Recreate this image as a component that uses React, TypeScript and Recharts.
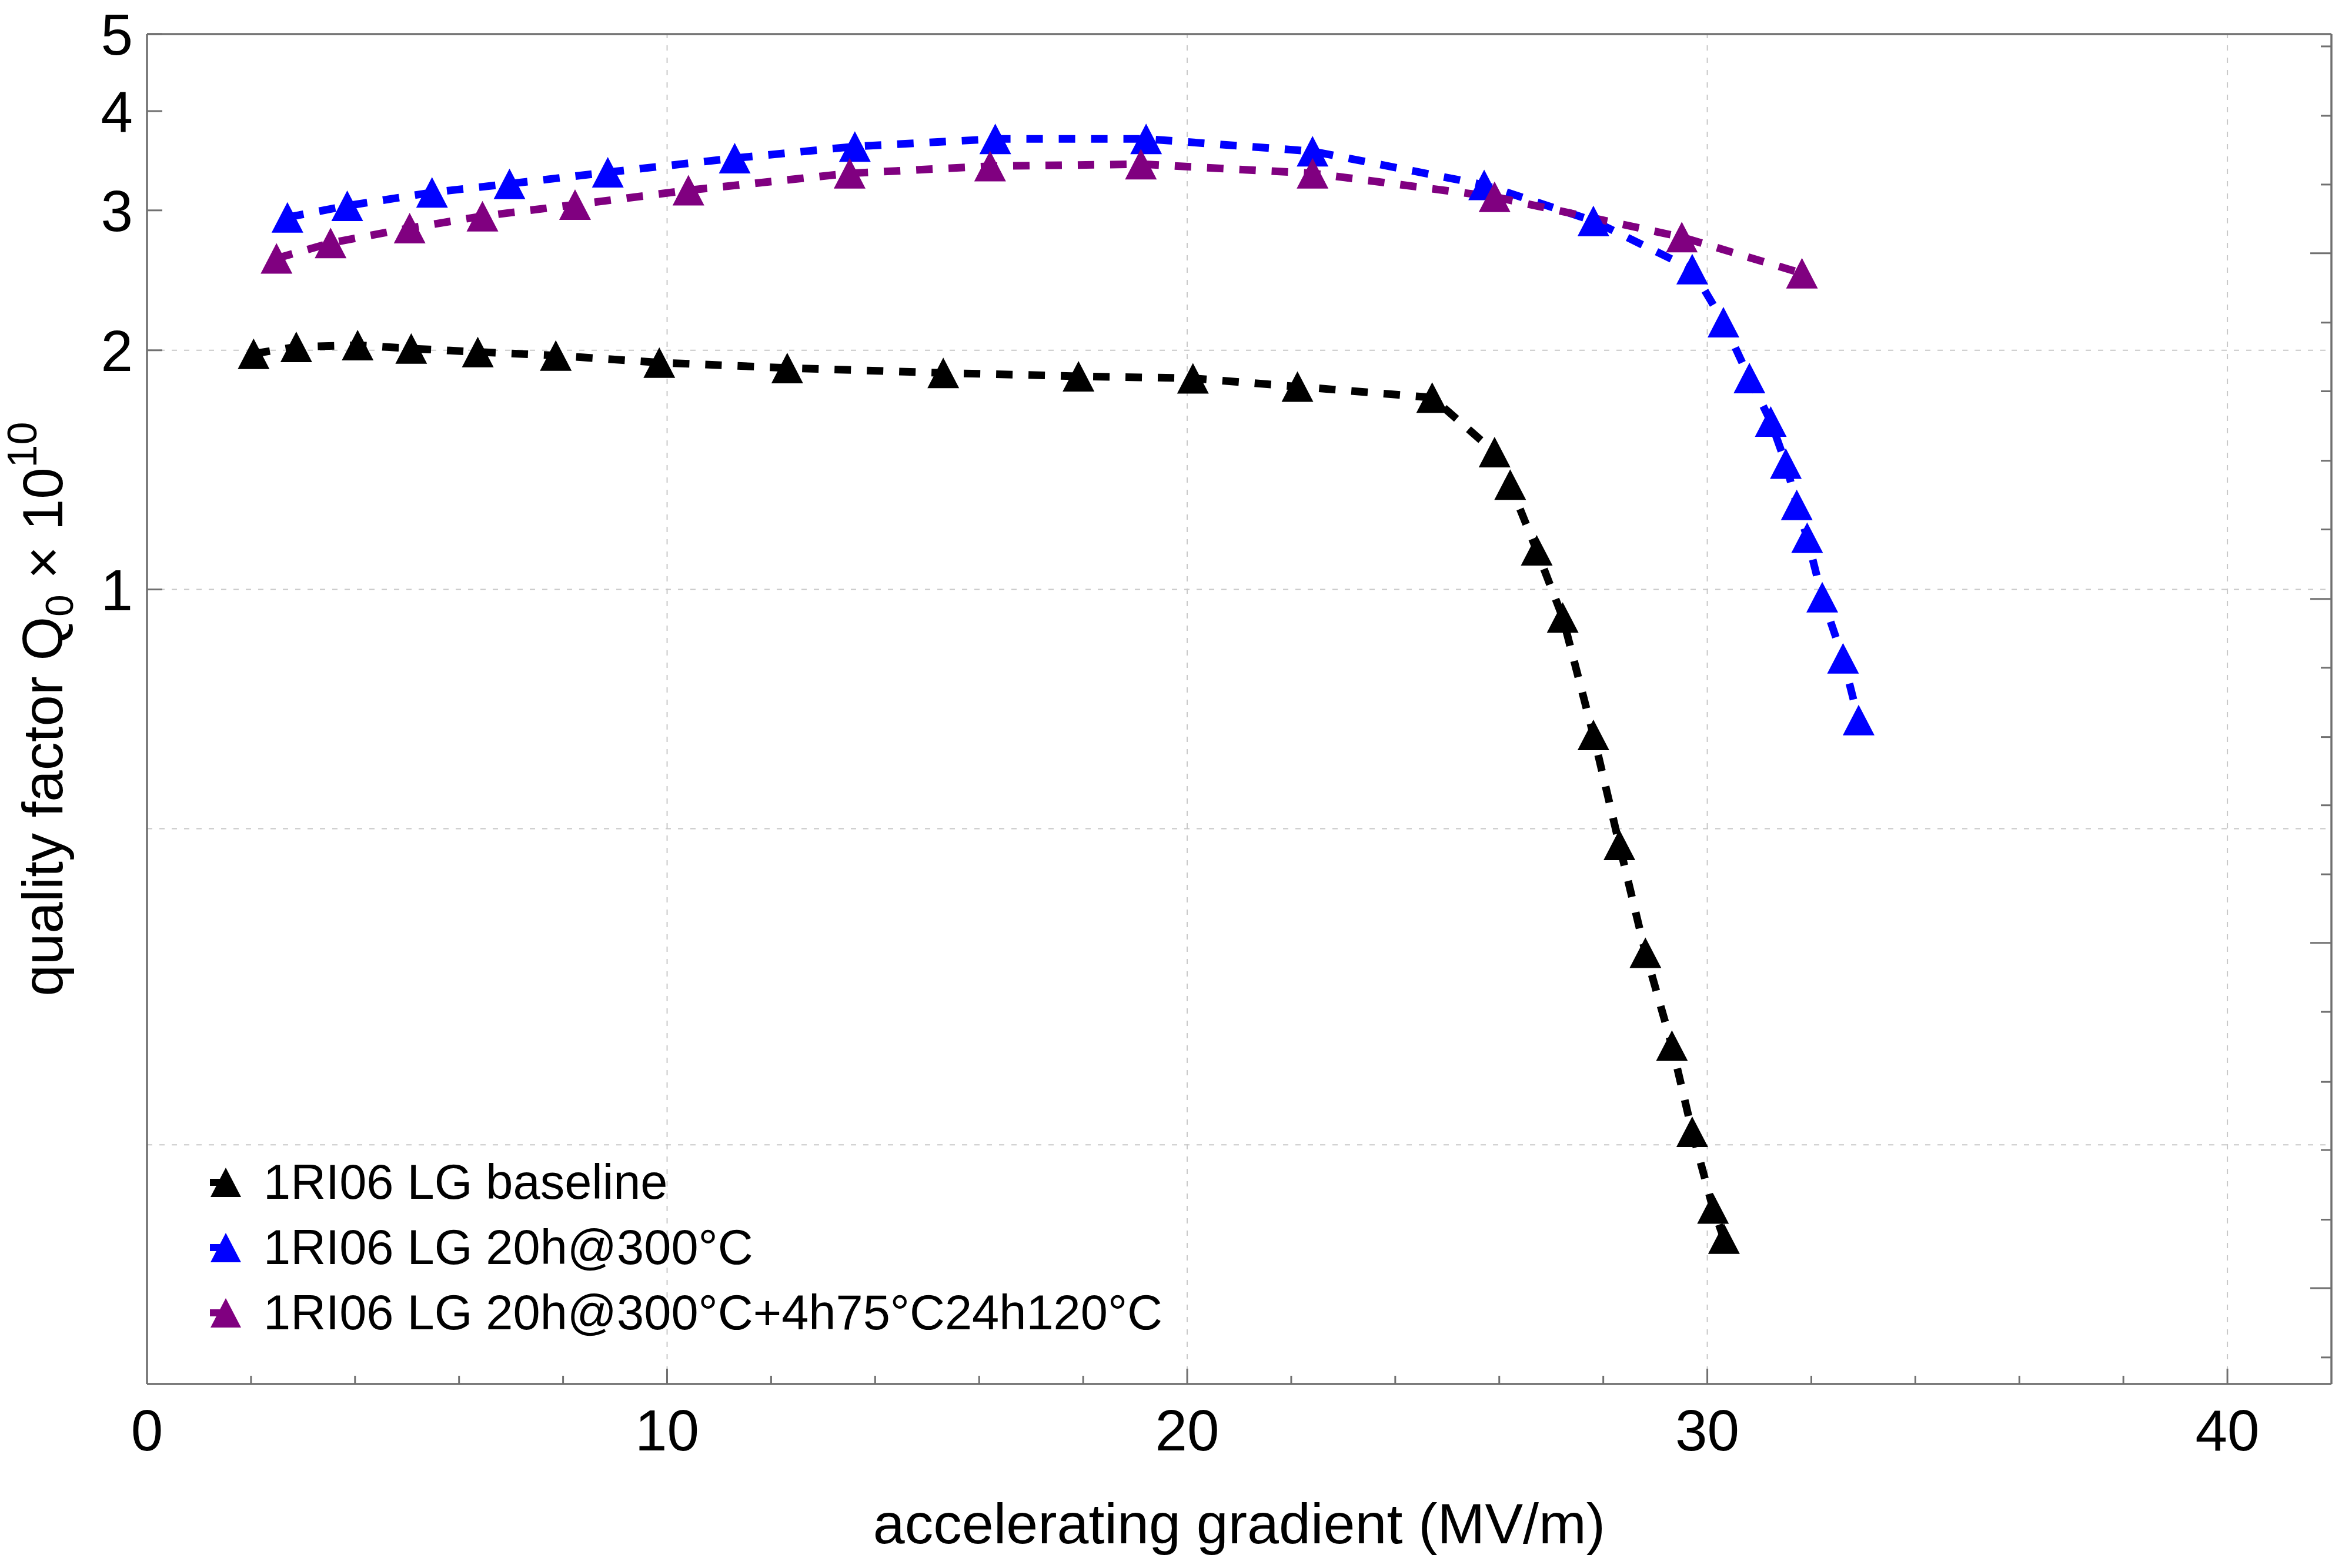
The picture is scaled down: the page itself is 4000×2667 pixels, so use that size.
import React from 'react'
import { LineChart, Line, XAxis, YAxis, ReferenceLine, Legend, Label } from 'recharts'

// accelerating gradient (MV/m) and Q0 (x 1e10) per series
const baselineX = [2.05, 2.87, 4.05, 5.08, 6.36, 7.86, 9.85, 12.31, 15.31, 17.91, 20.11, 22.12, 24.71, 25.91, 26.21, 26.72, 27.22, 27.81, 28.31, 28.81, 29.32, 29.71, 30.11, 30.32]
const baselineQ = [1.98, 2.02, 2.03, 2.01, 1.99, 1.97, 1.93, 1.9, 1.873, 1.855, 1.844, 1.8, 1.744, 1.489, 1.355, 1.12, 0.922, 0.656, 0.477, 0.349, 0.2666, 0.2077, 0.1663, 0.1524]

const bakedX = [2.7, 3.85, 5.48, 6.97, 8.86, 11.3, 13.61, 16.31, 19.21, 22.41, 25.71, 27.81, 29.71, 30.31, 30.81, 31.22, 31.51, 31.72, 31.92, 32.21, 32.61, 32.91]
const bakedQ = [2.94, 3.04, 3.16, 3.24, 3.35, 3.49, 3.61, 3.69, 3.69, 3.56, 3.23, 2.91, 2.53, 2.17, 1.845, 1.627, 1.44, 1.278, 1.162, 0.978, 0.819, 0.685]

const lowTempX = [2.49, 3.53, 5.05, 6.45, 8.23, 10.41, 13.51, 16.21, 19.11, 22.41, 25.91, 29.51, 31.82]
const lowTempQ = [2.61, 2.73, 2.85, 2.95, 3.05, 3.18, 3.34, 3.41, 3.43, 3.34, 3.12, 2.776, 2.5]

const seriesNames = ['1RI06 LG baseline', '1RI06 LG 20h@300°C', '1RI06 LG 20h@300°C+4h75°C24h120°C']
const seriesColors = ['#000000', '#0000ff', '#800080']

const xTicks = [0, 2, 4, 6, 8, 10, 12, 14, 16, 18, 20, 22, 24, 26, 28, 30, 32, 34, 36, 38, 40]
const xLabelTicks = [0, 10, 20, 30, 40]
const xGrid = [10, 20, 30, 40]
const yTicks = [1, 2, 3, 4, 5]
const yGrid = [0.2, 0.5, 1, 2]
const rightTicks = [4.825, 3.946, 3.233, 2.649, 2.167, 1.776, 1.452, 1.19, 0.973, 0.797, 0.652, 0.535, 0.438, 0.359, 0.294, 0.24, 0.197, 0.161, 0.132, 0.108]
const rightMajorTicks = [2.649, 0.973, 0.359, 0.132]

const FONT = '"Liberation Sans", Arial, sans-serif'
const FRAME = '#707070'
const GRID = '#c8c8c8'

const toPoints = (xs: number[], qs: number[]) => xs.map((x, i) => ({ x, q: qs[i] }))

const triangleDot = (color: string) => (p: any) => {
  const { cx, cy, index } = p
  if (cx == null || cy == null) return <g key={index} />
  return (
    <polygon
      key={index}
      points={`${cx},${cy - 26} ${cx + 27},${cy + 26} ${cx - 27},${cy + 26}`}
      fill={color}
    />
  )
}

const BottomTick = (p: any) => {
  const v = p.payload.value
  const major = xLabelTicks.includes(v)
  return (
    <g>
      {v > 0 && (
        <line x1={p.x} x2={p.x} y1={p.y} y2={p.y - (major ? 26 : 14)} stroke={FRAME} strokeWidth={3} />
      )}
      {major && (
        <text x={p.x} y={p.y + 113} textAnchor="middle" fontFamily={FONT} fontSize={98} fill="#000">
          {v}
        </text>
      )}
    </g>
  )
}

const TopTick = (p: any) => {
  const v = p.payload.value
  if (v <= 0) return <g />
  const major = xLabelTicks.includes(v)
  return <line x1={p.x} x2={p.x} y1={p.y} y2={p.y + (major ? 27 : 15)} stroke={FRAME} strokeWidth={3} />
}

const LeftTick = (p: any) => (
  <g>
    <line x1={p.x} x2={p.x + 26} y1={p.y} y2={p.y} stroke={FRAME} strokeWidth={3} />
    <text x={p.x - 24} y={p.y + 35} textAnchor="end" fontFamily={FONT} fontSize={98} fill="#000">
      {p.payload.value}
    </text>
  </g>
)

const RightTick = (p: any) => {
  const major = rightMajorTicks.includes(p.payload.value)
  return <line x1={p.x} x2={p.x - (major ? 36 : 18)} y1={p.y} y2={p.y} stroke={FRAME} strokeWidth={3} />
}

const XTitle = (props: any) => {
  const { x, y, width } = props.viewBox
  return (
    <text x={x + width / 2} y={y + 271} textAnchor="middle" fontFamily={FONT} fontSize={97} fill="#000">
      accelerating gradient (MV/m)
    </text>
  )
}

const YTitle = (props: any) => {
  const { y, height } = props.viewBox
  const cx = 106
  const cy = y + height / 2
  return (
    <text
      x={cx}
      y={cy}
      transform={`rotate(-90 ${cx} ${cy})`}
      textAnchor="middle"
      fontFamily={FONT}
      fontSize={96}
      fill="#000"
    >
      quality factor Q
      <tspan fontSize={67} dy={18}>0</tspan>
      <tspan dy={-18}> × 10</tspan>
      <tspan fontSize={70} dy={-44}>10</tspan>
    </text>
  )
}

const renderLegend = (props: any) => {
  const payload = [...(props.payload || [])].sort(
    (a: any, b: any) => seriesNames.indexOf(a.value) - seriesNames.indexOf(b.value)
  )
  return (
    <svg width={2200} height={420} style={{ display: 'block' }}>
      {payload.map((entry: any, i: number) => {
        const cy = 58 + i * 111
        const cx = 54
        return (
          <g key={entry.value}>
            <line x1={27} x2={cx} y1={cy} y2={cy} stroke={entry.color} strokeWidth={12} />
            <polygon points={`${cx},${cy - 25} ${cx + 26},${cy + 25} ${cx - 26},${cy + 25}`} fill={entry.color} />
            <text x={118} y={cy + 28} fontFamily={FONT} fontSize={83} fill="#000">
              {entry.value}
            </text>
          </g>
        )
      })}
    </svg>
  )
}

export default function App() {
  const series = [
    { name: seriesNames[0], color: seriesColors[0], data: toPoints(baselineX, baselineQ) },
    { name: seriesNames[1], color: seriesColors[1], data: toPoints(bakedX, bakedQ) },
    { name: seriesNames[2], color: seriesColors[2], data: toPoints(lowTempX, lowTempQ) },
  ]

  return (
    <div style={{ position: 'absolute', left: 0, top: 0, width: 4000, height: 2667, background: '#fff' }}>
      <style>{'body{margin:0}'}</style>
      <LineChart width={4000} height={2667} margin={{ top: 57, right: 34, bottom: 0, left: 0 }}>
        <XAxis
          dataKey="x"
          type="number"
          domain={[0, 42]}
          ticks={xTicks}
          interval={0}
          allowDataOverflow
          height={313}
          axisLine={{ stroke: FRAME, strokeWidth: 3.5 }}
          tickLine={false}
          tickSize={0}
          tickMargin={0}
          tick={BottomTick}
        >
          <Label content={XTitle} />
        </XAxis>
        <XAxis
          xAxisId="top"
          orientation="top"
          type="number"
          domain={[0, 42]}
          ticks={xTicks}
          interval={0}
          allowDataOverflow
          height={1}
          axisLine={{ stroke: FRAME, strokeWidth: 3.5 }}
          tickLine={false}
          tickSize={0}
          tickMargin={0}
          tick={TopTick}
        />
        <YAxis
          scale="log"
          type="number"
          domain={[0.1, 5]}
          ticks={yTicks}
          interval={0}
          allowDataOverflow
          width={250}
          axisLine={{ stroke: FRAME, strokeWidth: 3.5 }}
          tickLine={false}
          tickSize={0}
          tickMargin={0}
          tick={LeftTick}
        >
          <Label content={YTitle} />
        </YAxis>
        <YAxis
          yAxisId="right"
          orientation="right"
          scale="log"
          type="number"
          domain={[0.1, 5]}
          ticks={rightTicks}
          interval={0}
          allowDataOverflow
          width={1}
          axisLine={{ stroke: FRAME, strokeWidth: 3.5 }}
          tickLine={false}
          tickSize={0}
          tickMargin={0}
          tick={RightTick}
        />
        {yGrid.map((v) => (
          <ReferenceLine key={`h${v}`} y={v} stroke={GRID} strokeWidth={2} strokeDasharray="9 12" />
        ))}
        {xGrid.map((v) => (
          <ReferenceLine key={`v${v}`} x={v} stroke={GRID} strokeWidth={2} strokeDasharray="9 12" />
        ))}
        <Legend
          layout="vertical"
          align="center"
          verticalAlign="middle"
          content={renderLegend}
          wrapperStyle={{ left: 330, top: 1953, width: 2200, height: 420 }}
        />
        {series.map((s) => (
          <Line
            key={s.name}
            name={s.name}
            data={s.data}
            dataKey="q"
            type="linear"
            stroke={s.color}
            strokeWidth={13}
            strokeDasharray="28 27"
            strokeLinecap="butt"
            dot={triangleDot(s.color)}
            activeDot={false}
            isAnimationActive={false}
          />
        ))}
      </LineChart>
    </div>
  )
}
